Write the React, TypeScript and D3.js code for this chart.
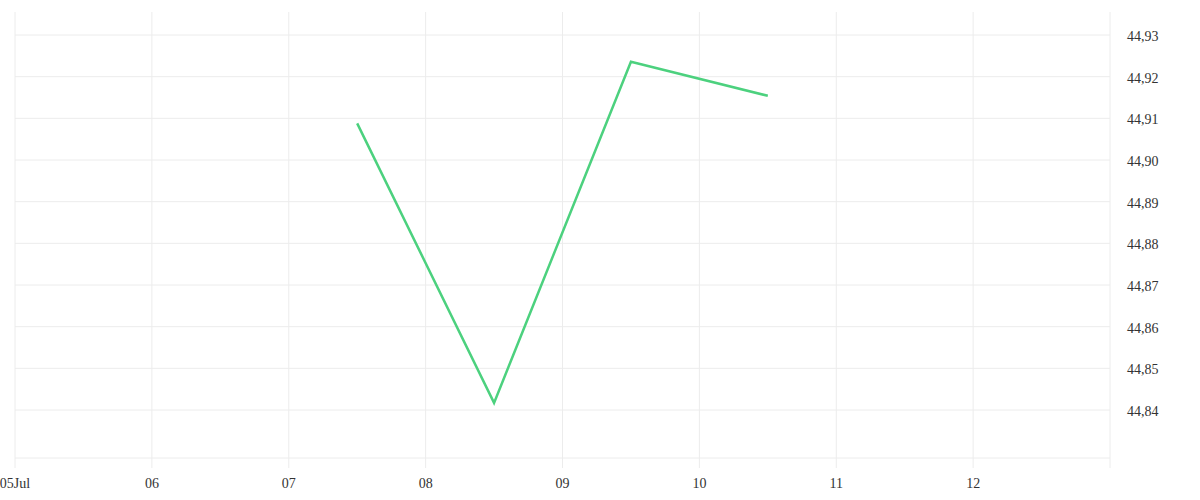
import React from "react";
import * as d3 from "d3";

const dayTicks = ["2023-07-05", "2023-07-06", "2023-07-07", "2023-07-08", "2023-07-09", "2023-07-10", "2023-07-11", "2023-07-12", "2023-07-13"];
const dayLabels = ["05Jul", "06", "07", "08", "09", "10", "11", "12", ""];
const yTicks = [44.84, 44.85, 44.86, 44.87, 44.88, 44.89, 44.9, 44.91, 44.92, 44.93];
const pointDates = ["2023-07-07T12:00", "2023-07-08T12:00", "2023-07-09T12:00", "2023-07-10T12:00"];
const pointValues = [44.9088, 44.8417, 44.9236, 44.9154];

const W = 1200;
const H = 500;
const left = 15;
const right = 1110;
const top = 12;
const bottom = 458;

export default function App() {
  const parse = (s: string) => new Date(s.length > 10 ? s : s + "T00:00");
  const x = d3
    .scaleTime()
    .domain([parse(dayTicks[0]), parse(dayTicks[dayTicks.length - 1])])
    .range([left, right]);
  const y = d3.scaleLinear().domain([44.82848, 44.93552]).range([bottom, top]);
  const data = pointDates.map((d, i) => ({ d: parse(d), v: pointValues[i] }));
  const line = d3
    .line<{ d: Date; v: number }>()
    .x((p) => x(p.d))
    .y((p) => y(p.v));
  const grid = "#ececec";
  const fmt = (v: number) => v.toFixed(2).replace(".", ",");
  return (
    <svg
      width={W}
      height={H}
      style={{ position: "absolute", left: 0, top: 0, fontFamily: "'Liberation Serif', serif" }}
    >
      <rect width={W} height={H} fill="#fff" />
      {yTicks.map((t) => (
        <line key={"h" + t} x1={left} x2={right} y1={y(t)} y2={y(t)} stroke={grid} strokeWidth={1} />
      ))}
      <line x1={left} x2={right} y1={bottom} y2={bottom} stroke={grid} strokeWidth={1} />
      {dayTicks.map((t) => (
        <line key={"v" + t} x1={x(parse(t))} x2={x(parse(t))} y1={top} y2={bottom + 10} stroke={grid} strokeWidth={1} />
      ))}
      {dayTicks.map((t, i) => (
        <text key={"xl" + t} x={x(parse(t))} y={488} textAnchor="middle" fontSize={14} fill="#333">
          {dayLabels[i]}
        </text>
      ))}
      {yTicks.map((t) => (
        <text key={"yl" + t} x={1127} y={y(t) + 6} fontSize={14} fill="#333">
          {fmt(t)}
        </text>
      ))}
      <path d={line(data) || ""} fill="none" stroke="#4cd17e" strokeWidth={2.5} strokeLinejoin="miter" />
    </svg>
  );
}
